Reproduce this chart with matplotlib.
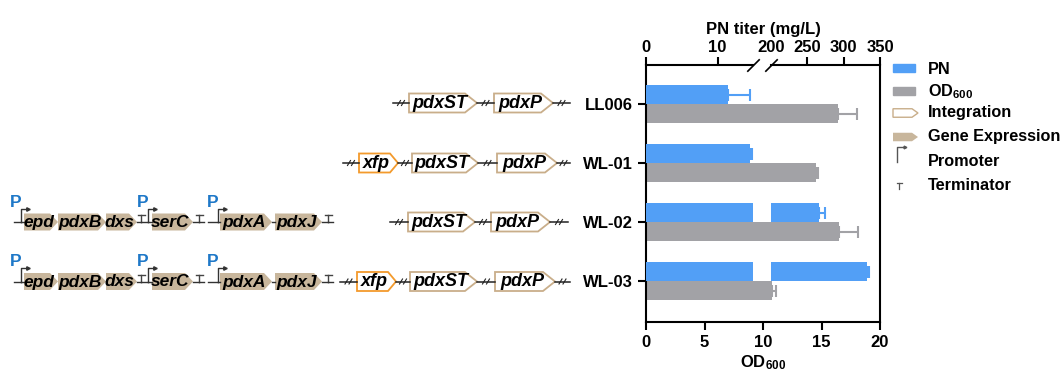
import numpy as np
import matplotlib
matplotlib.use('Agg')
import matplotlib.pyplot as plt
from matplotlib.patches import Polygon, Rectangle

plt.rcParams['font.family'] = ['Liberation Sans', 'DejaVu Sans']
plt.rcParams['font.weight'] = 'bold'
plt.rcParams['axes.labelweight'] = 'bold'
plt.rcParams['mathtext.fontset'] = 'custom'
plt.rcParams['mathtext.rm'] = 'Liberation Sans:bold'
plt.rcParams['mathtext.bf'] = 'Liberation Sans:bold'
plt.rcParams['mathtext.it'] = 'Liberation Sans:bold:italic'

# data
strains = ['LL006', 'WL-01', 'WL-02', 'WL-03']
pn_titer = [11.4, 14.5, 266.7, 332.0]
pn_err = [3.2, 0.3, 8.0, 3.0]
od600 = [16.4, 14.5, 16.5, 10.8]
od_err = [1.6, 0.2, 1.6, 0.3]

pn_ticks = [0, 10, 200, 250, 300, 350]
od_ticks = [0, 5, 10, 15, 20]
brk_lo, brk_hi = 15, 200

blue = '#529FF6'
gray = '#A2A2A6'
tan = '#C8B69C'
tan_edge = '#C9AE8A'
orange = '#F39A2C'
pblue = '#1E78C8'


def fwd(x):
    return np.interp(x, [0, brk_lo, brk_hi, 350], [0, 9.17, 10.66, 20])


def inv(x):
    return np.interp(x, [0, 9.17, 10.66, 20], [0, brk_lo, brk_hi, 350])


fig = plt.figure(figsize=(10.64, 3.72), dpi=100)

# overlay for the construct drawings (pixel coords, y down)
ov = fig.add_axes([0, 0, 1, 1])
ov.set_xlim(0, 1064)
ov.set_ylim(372, 0)
ov.axis('off')
ov.patch.set_alpha(0)


def arrow_box(x0, x1, yc, h, tip, fc, ec, lw):
    pts = [(x0, yc - h / 2), (x1 - tip, yc - h / 2), (x1, yc),
           (x1 - tip, yc + h / 2), (x0, yc + h / 2)]
    ov.add_patch(Polygon(pts, closed=True, facecolor=fc, edgecolor=ec, lw=lw, joinstyle='miter'))


def brk(x0, x1, yc):
    ov.plot([x0, x1], [yc, yc], color='#222222', lw=1.1)
    m = (x0 + x1) / 2
    for dx in (-2, 2):
        ov.plot([m + dx - 1.5, m + dx + 1.5], [yc + 2.5, yc - 2.5], color='#222222', lw=0.8)


def promoter(x, yc, label=True):
    ov.plot([x, x, x + 6], [yc, yc - 13.5, yc - 13.5], color='#333333', lw=1.0)
    ov.plot([x + 7], [yc - 13.5], marker='>', ms=2.5, color='#333333')
    if label:
        ov.text(x + 0.5, yc - 15, 'P', color=pblue, fontsize=12.5, fontweight='bold',
                ha='right', va='baseline')


def terminator(x, yc):
    ov.plot([x, x], [yc, yc - 7], color='#444444', lw=1.0)
    ov.plot([x - 3.5, x + 3.5], [yc - 7, yc - 7], color='#444444', lw=1.0)


def construct(x, yc, parts):
    for p in parts:
        kind = p[0]
        if kind == 'line':
            ov.plot([x, x + p[1]], [yc, yc], color='#333333', lw=1.0)
            x += p[1]
        elif kind == 'gap':
            x += p[1]
        elif kind == 'brk':
            brk(x, x + p[1], yc)
            x += p[1]
        elif kind == 'pro':
            promoter(x, yc)
        elif kind == 'term':
            terminator(x, yc)
        elif kind == 'gene':
            arrow_box(x, x + p[2], yc, 17, 8, tan, 'none', 0)
            ov.text(x + (p[2] - 4) / 2, yc + 0.5, p[1], fontsize=12.5, style='italic',
                    fontweight='bold', ha='center', va='center')
            x += p[2]
        elif kind in ('int', 'xfp'):
            ec = orange if kind == 'xfp' else tan_edge
            tip = 8 if kind == 'xfp' else 12
            arrow_box(x, x + p[2], yc, 19, tip, 'white', ec, 1.3)
            ov.text(x + (p[2] - tip / 2) / 2, yc + 0.5, p[1], fontsize=13, style='italic',
                    fontweight='bold', ha='center', va='center')
            x += p[2]


row_y = [103, 163, 222, 281.5]

native = [('line', 6.7), ('pro',), ('line', 3.3), ('gene', 'epd', 34), ('gene', 'pdxB', 48),
          ('gene', 'dxs', 31), ('line', 4), ('term',), ('line', 7), ('pro',), ('line', 4),
          ('gene', 'serC', 41), ('line', 6), ('term',), ('line', 5), ('gap', 4), ('line', 10),
          ('pro',), ('line', 2), ('gene', 'pdxA', 52), ('line', 3), ('gene', 'pdxJ', 47),
          ('line', 6), ('term',), ('line', 5)]
construct(14, row_y[2], native)
construct(14, row_y[3], native)

construct(393, row_y[0], [('brk', 16), ('int', 'pdxST', 68), ('brk', 17), ('int', 'pdxP', 59), ('brk', 17)])
construct(343, row_y[1], [('brk', 16), ('xfp', 'xfp', 39), ('brk', 14), ('int', 'pdxST', 66),
                          ('brk', 19), ('int', 'pdxP', 60), ('brk', 13)])
construct(390, row_y[2], [('brk', 18), ('int', 'pdxST', 67), ('brk', 16), ('int', 'pdxP', 59), ('brk', 18)])
construct(340, row_y[3], [('brk', 17), ('xfp', 'xfp', 39), ('brk', 14), ('int', 'pdxST', 67),
                          ('brk', 18), ('int', 'pdxP', 60), ('brk', 15)])

# legend
ov.add_patch(Rectangle((893, 64), 22, 8, color=blue))
ov.add_patch(Rectangle((893, 86.5), 22, 8.5, color=gray))
arrow_box(893, 918, 113, 8.5, 6, 'white', tan_edge, 1.0)
arrow_box(893, 918, 137, 8.5, 6, tan, 'none', 0)
ov.plot([897, 897, 904], [162, 147, 147], color='#555555', lw=1.0)
ov.plot([905], [147], marker='>', ms=2, color='#555555')
ov.plot([899.3, 899.3], [189, 183], color='#555555', lw=0.9)
ov.plot([896.8, 901.8], [183, 183], color='#555555', lw=0.9)
leg_lab = ['PN', r'OD$_{600}$', 'Integration', 'Gene Expression', 'Promoter', 'Terminator']
leg_y = [69, 91.5, 113, 136, 162, 186]
for lab, y in zip(leg_lab, leg_y):
    ov.text(928, y, lab, fontsize=11.7, fontweight='bold', ha='left', va='center')

# bar chart
ax = fig.add_axes([646 / 1064, 1 - 321.5 / 372, 234 / 1064, 257 / 372])
y = np.arange(len(strains))
h = 0.32
ax.barh(y + h / 2, od600, height=h, color=gray)
ax.errorbar(od600, y + h / 2, xerr=[np.zeros(len(od_err)), od_err], fmt='none',
            ecolor=gray, elinewidth=1.5, capsize=4, capthick=1.5)
ax.set_xlim(0, 20)
ax.set_ylim(3.68, -0.67)
ax.set_xticks(od_ticks)
ax.set_yticks(y)
ax.set_yticklabels(strains)
ax.set_xlabel(r'OD$_{600}$', fontsize=12, labelpad=2)
ax.tick_params(axis='both', labelsize=12, width=1.5, length=6)
ax.tick_params(axis='x', pad=4)
ax.spines['top'].set_visible(False)
for s in ['left', 'bottom', 'right']:
    ax.spines[s].set_linewidth(1.5)

ax2 = ax.twiny()
ax2.set_xscale('function', functions=(fwd, inv))
ax2.set_xlim(0, 350)
for i in range(len(strains)):
    if pn_titer[i] > brk_hi:
        ax2.barh(y[i] - h / 2, brk_lo, height=h, color=blue)
        ax2.barh(y[i] - h / 2, pn_titer[i] - brk_hi, left=brk_hi, height=h, color=blue)
    else:
        ax2.barh(y[i] - h / 2, pn_titer[i], height=h, color=blue)
ax2.errorbar(pn_titer, y - h / 2, xerr=[np.zeros(len(pn_err)), pn_err], fmt='none',
             ecolor=blue, elinewidth=1.5, capsize=4, capthick=1.5)
ax2.set_xticks(pn_ticks)
ax2.set_xticklabels([str(t) for t in pn_ticks])
ax2.tick_params(axis='x', labelsize=12, width=1.5, length=6, pad=0.5)
ax2.xaxis.get_major_ticks()[2].tick2line.set_visible(False)
ax2.set_xlabel('PN titer (mg/L)', fontsize=12, labelpad=5)
for s in ax2.spines.values():
    s.set_visible(False)
xt = ax2.get_xaxis_transform()
ax2.plot([0, brk_lo], [1, 1], color='k', lw=1.5, transform=xt, clip_on=False)
ax2.plot([brk_hi, 350], [1, 1], color='k', lw=1.5, transform=xt, clip_on=False)
ax2.plot([brk_lo, brk_hi], [1, 1], ls='none', marker=[(-1, -1), (1, 1)], ms=9, mew=1.2,
         color='k', transform=xt, clip_on=False)
ax2.set_ylim(3.68, -0.67)

fig.savefig('out.png', dpi=100)
